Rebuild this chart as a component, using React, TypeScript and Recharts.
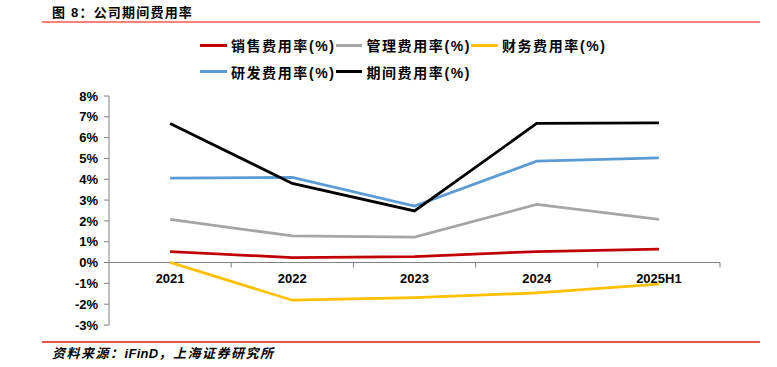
import React from 'react';
import { LineChart, Line, XAxis, YAxis, ReferenceLine } from 'recharts';

const categories = ['2021', '2022', '2023', '2024', '2025H1'];
const salesRate = [0.53, 0.24, 0.29, 0.53, 0.64];
const adminRate = [2.07, 1.28, 1.22, 2.79, 2.07];
const financeRate = [0.01, -1.81, -1.68, -1.46, -1.04];
const rndRate = [4.05, 4.09, 2.71, 4.87, 5.03];
const periodRate = [6.68, 3.8, 2.48, 6.68, 6.71];
const yTicks = [-3, -2, -1, 0, 1, 2, 3, 4, 5, 6, 7, 8];

const seriesKeys = ['sales', 'admin', 'finance', 'rnd', 'period'];
const seriesNames = ['销售费用率(%)', '管理费用率(%)', '财务费用率(%)', '研发费用率(%)', '期间费用率(%)'];
const seriesColors = ['#C00000', '#A5A5A5', '#FFC000', '#5B9BD5', '#000000'];
const seriesValues = [salesRate, adminRate, financeRate, rndRate, periodRate];

const data = categories.map((c, i) => {
  const row: Record<string, any> = { name: c };
  seriesKeys.forEach((k, j) => {
    row[k] = seriesValues[j][i];
  });
  return row;
});

const FONT = '"Liberation Sans", Arial, "Noto Sans CJK SC", sans-serif';
const AXIS_COLOR = '#7F7F7F';

const ZeroAxis = (props: any) => {
  const vb = props.viewBox || {};
  const x0 = vb.x ?? 109;
  const y0 = vb.y ?? 262;
  const w = vb.width ?? 611;
  const step = w / categories.length;
  return (
    <g>
      {categories.map((c, i) => (
        <g key={c}>
          <line x1={x0 + (i + 1) * step} x2={x0 + (i + 1) * step} y1={y0} y2={y0 + 5} stroke={AXIS_COLOR} strokeWidth={1} />
          <text
            x={x0 + (i + 0.5) * step}
            y={y0 + 16}
            textAnchor="middle"
            dominantBaseline="central"
            fontFamily={FONT}
            fontSize={13}
            fontWeight="bold"
            fill="#000"
          >
            {c}
          </text>
        </g>
      ))}
    </g>
  );
};

export default function App() {
  return (
    <div style={{ position: 'absolute', left: 0, top: 0, width: 777, height: 367, background: '#fff', fontFamily: FONT }}>
      <div
        style={{
          position: 'absolute',
          left: 52,
          top: 4,
          fontSize: 13,
          lineHeight: '17px',
          fontWeight: 'bold',
          letterSpacing: 1.2,
          color: '#000',
          whiteSpace: 'nowrap',
        }}
      >
        图 8：公司期间费用率
      </div>
      <div style={{ position: 'absolute', left: 42, top: 21, width: 718, height: 2, background: '#FF8080' }} />

      <div style={{ position: 'absolute', left: 0, top: 0 }}>
        <LineChart width={777} height={367} data={data} margin={{ top: 96, right: 57, bottom: 42, left: 0 }}>
          <XAxis dataKey="name" hide scale="band" />
          <YAxis
            width={109}
            domain={[-3, 8]}
            ticks={yTicks}
            interval={0}
            tickFormatter={(v: number) => `${v}%`}
            axisLine={{ stroke: AXIS_COLOR, strokeWidth: 1 }}
            tickLine={{ stroke: AXIS_COLOR, strokeWidth: 1 }}
            tickSize={5}
            tickMargin={6}
            tick={{ fontFamily: FONT, fontSize: 13, fontWeight: 'bold', fill: '#000' }}
          />
          <ReferenceLine y={0} stroke={AXIS_COLOR} strokeWidth={1} label={<ZeroAxis />} />
          {seriesKeys.map((k, j) => (
            <Line
              key={k}
              dataKey={k}
              name={seriesNames[j]}
              stroke={seriesColors[j]}
              strokeWidth={2.75}
              dot={false}
              activeDot={false}
              isAnimationActive={false}
              type="linear"
            />
          ))}
        </LineChart>
      </div>

      <div style={{ position: 'absolute', left: 200, top: 32, width: 420 }}>
        {[0, 1].map((row) => (
          <div key={row} style={{ display: 'flex', height: 26.5, alignItems: 'center' }}>
            {seriesNames.slice(row * 3, row * 3 + 3).map((n, i) => {
              const j = row * 3 + i;
              return (
                <div key={n} style={{ display: 'flex', alignItems: 'center', width: 135.5 }}>
                  <div style={{ width: 27, height: 3, background: seriesColors[j], marginRight: 4 }} />
                  <span style={{ fontSize: 14, fontWeight: 'bold', letterSpacing: 1.6, whiteSpace: 'nowrap', color: '#000' }}>{n}</span>
                </div>
              );
            })}
          </div>
        ))}
      </div>

      <div style={{ position: 'absolute', left: 42, top: 341, width: 718, height: 2, background: '#E8534B' }} />
      <div
        style={{
          position: 'absolute',
          left: 52,
          top: 345,
          fontSize: 13,
          lineHeight: '17px',
          fontWeight: 'bold',
          fontStyle: 'italic',
          letterSpacing: 1.5,
          color: '#000',
          whiteSpace: 'nowrap',
        }}
      >
        资料来源：<span style={{ letterSpacing: 0.3 }}>iFinD</span>，上海证券研究所
      </div>
    </div>
  );
}
